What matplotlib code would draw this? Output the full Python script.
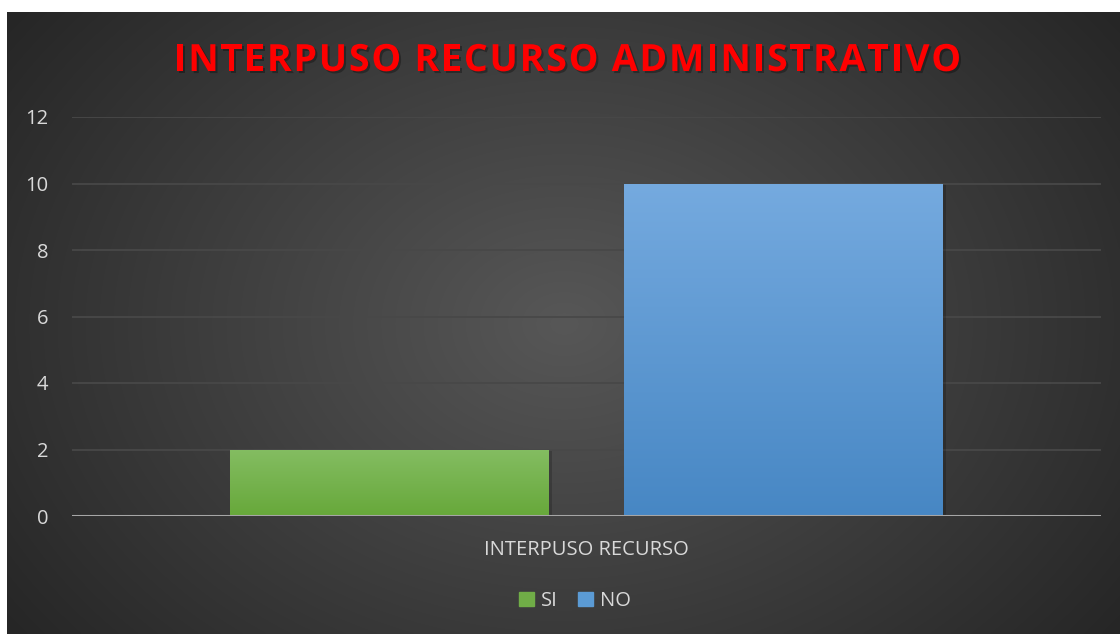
import numpy as np
import matplotlib
matplotlib.use("Agg")
import matplotlib.pyplot as plt
import matplotlib.patheffects as pe
from matplotlib.colors import LinearSegmentedColormap
from matplotlib.font_manager import FontProperties

# ---- data ----
title = "INTERPUSO RECURSO ADMINISTRATIVO"
category = ["INTERPUSO RECURSO"]
series_names = ["SI", "NO"]
series_values = [[2], [10]]
y_ticks = [0, 2, 4, 6, 8, 10, 12]

top_colors = ["#84bd62", "#75aadf"]
bot_colors = ["#67a83a", "#4787c4"]
legend_colors = ["#70ad47", "#5b9bd5"]

W, H = 1120, 634
fig = plt.figure(figsize=(W / 100, H / 100), dpi=100)
fig.patch.set_facecolor("white")

# background radial gradient (dark chart area)
bg_ax = fig.add_axes([7 / W, 0, 1 - 7 / W, 1 - 12 / H])
bg_ax.set_axis_off()
ny, nx = 300, 560
yy, xx = np.mgrid[0:ny, 0:nx]
cx, cy = nx * 0.5, ny * 0.5
r = np.sqrt(((xx - cx) / (nx * 0.62)) ** 2 + ((yy - cy) / (ny * 0.62)) ** 2 * 0.55)
r = np.clip(r, 0, 1)
light = np.array([0x57, 0x57, 0x57]) / 255
dark = np.array([0x26, 0x26, 0x26]) / 255
img = light[None, None, :] * (1 - r[..., None]) + dark[None, None, :] * r[..., None]
bg_ax.imshow(img, aspect="auto", extent=[0, 1, 0, 1], interpolation="bilinear")
bg_ax.set_xlim(0, 1)
bg_ax.set_ylim(0, 1)

ax = fig.add_axes([72 / W, (H - 516) / H, (1101 - 72) / W, (516 - 117) / H])
ax.set_facecolor("none")
for s in ax.spines.values():
    s.set_visible(False)

x = np.arange(len(category))
bw = 0.31
gap = 0.073
offsets = [-(bw + gap) / 2, (bw + gap) / 2]

ax.set_ylim(0, 12)
ax.set_xlim(-0.5, 0.5)
ax.set_yticks(y_ticks)
ax.yaxis.grid(True, color="#484848", linewidth=1.3, zorder=0)
ax.set_axisbelow(True)

for i, (name, vals) in enumerate(zip(series_names, series_values)):
    bars = ax.bar(x + offsets[i], vals, width=bw, color=legend_colors[i], zorder=2,
                  label=name, linewidth=0)
    for b in bars:
        b.set_path_effects([pe.SimplePatchShadow(offset=(2, -1), shadow_rgbFace="black", alpha=0.18), pe.Normal()])
        cmap = LinearSegmentedColormap.from_list("g", [bot_colors[i], top_colors[i]])
        grad = np.linspace(0, 1, 256).reshape(-1, 1)
        x0, y0 = b.get_x(), b.get_y()
        im = ax.imshow(grad, cmap=cmap, aspect="auto", origin="lower",
                       extent=[x0, x0 + b.get_width(), y0, y0 + b.get_height()], zorder=3)
        im.set_clip_path(b)

ax.set_xlim(-0.5, 0.5)
ax.set_ylim(0, 12)
ax.axhline(0, color="#a6a6a6", linewidth=2.2, zorder=4)

ax.set_xticks(x)
ax.set_xticklabels(category)
ax.tick_params(axis="both", length=0, colors="#d9d9d9", labelsize=14.5)
ax.tick_params(axis="x", pad=17)
ax.tick_params(axis="y", pad=17)
for lab in ax.get_xticklabels() + ax.get_yticklabels():
    lab.set_family("Open Sans")
    lab.set_color("#d9d9d9")

# title with letter spacing (each character is a real text object)
fp = FontProperties(family="Open Sans", weight="bold", size=27)
spacing = 1.8  # pixels
renderer = fig.canvas.get_renderer()
adv = []
for ch in title:
    t = fig.text(0, 0, ch if ch != " " else "\u00a0", fontproperties=fp)
    adv.append(t.get_window_extent(renderer).width)
    t.remove()
total = sum(adv) + spacing * (len(title) - 1)
xpos = 567.5 - total / 2
for ch, a in zip(title, adv):
    if ch != " ":
        fig.text(xpos / W, 1 - 61 / H, ch, ha="left", va="center", color="#ff0000",
                 fontproperties=fp,
                 path_effects=[pe.withSimplePatchShadow(offset=(1.5, -1.5), shadow_rgbFace="black", alpha=0.3)])
    xpos += a + spacing

leg = fig.legend([plt.Rectangle((0, 0), 1, 1, color=c) for c in legend_colors], series_names,
                 loc="center", bbox_to_anchor=(575 / W, 1 - 601 / H), ncol=2, frameon=False,
                 handlelength=0.75, handleheight=0.75, handletextpad=0.35, columnspacing=1.0,
                 prop={"family": "Open Sans", "size": 14.5})
for t in leg.get_texts():
    t.set_color("#d9d9d9")

fig.savefig("out.png", dpi=100, facecolor=fig.get_facecolor())
